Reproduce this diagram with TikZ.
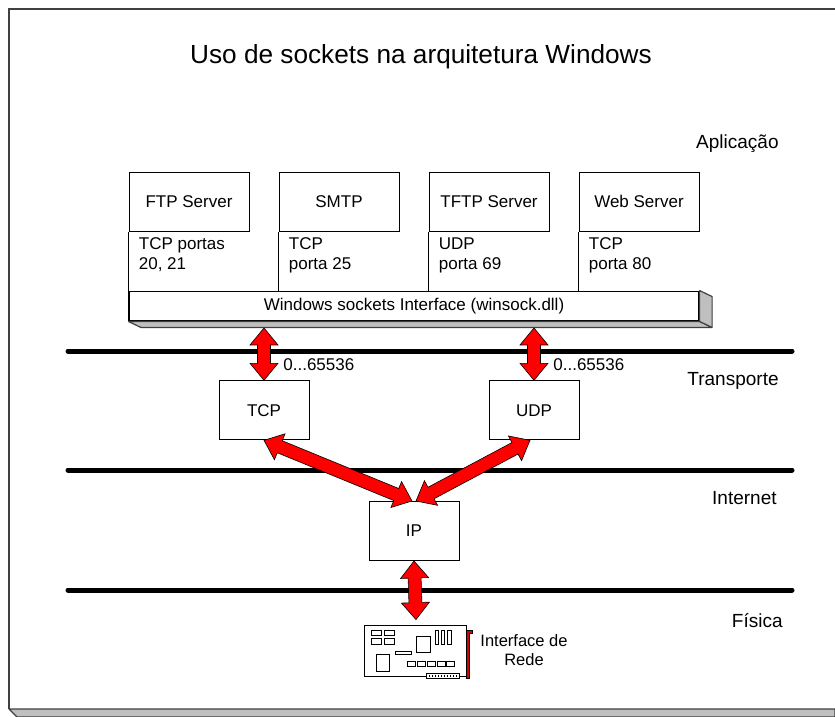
\documentclass[tikz,border=0pt]{standalone}
\usepackage{fontspec}
\setmainfont{Liberation Sans}
\usetikzlibrary{calc}

\tikzset{
  proto/.style={draw, line width=0.5pt, minimum width=45pt, minimum height=29.5pt,
    inner sep=0pt, font=\fontsize{8.5}{10}\selectfont},
  app/.style={proto, minimum width=60pt},
  porttext/.style={anchor=north west, align=left, inner sep=0pt,
    font=\fontsize{8.5}{10}\selectfont},
  rangetext/.style={anchor=west, inner sep=0pt, font=\fontsize{8.5}{10}\selectfont},
  layer/.style={anchor=east, inner sep=0pt, font=\fontsize{9.5}{11}\selectfont},
  layerline/.style={line width=2.5pt, line cap=round},
  arrowfill/.style={fill=red, draw=black, line width=0.3pt, line join=miter},
  frameline/.style={draw=black!75, line width=0.8pt},
  base3d/.style={fill=black!25, draw=black!75, line width=0.6pt, line join=bevel},
  chip/.style={draw, line width=0.4pt},
}

% two-headed block arrow between two points
\newcommand{\biarrow}[2]{%
  \coordinate (ba-s) at (#1);
  \coordinate (ba-e) at (#2);
  \pgfpointdiff{\pgfpointanchor{ba-s}{center}}{\pgfpointanchor{ba-e}{center}}%
  \pgfgetlastxy{\badx}{\bady}%
  \pgfmathsetmacro{\baang}{atan2(\bady,\badx)}%
  \pgfmathsetmacro{\balen}{veclen(\badx,\bady)}%
  \begin{scope}[shift={(ba-s)}, rotate=\baang, x=1pt, y=1pt]
    \draw[arrowfill] (0,0) -- (8.5,7) -- (8.5,3.25) -- (\balen-8.5,3.25)
      -- (\balen-8.5,7) -- (\balen,0) -- (\balen-8.5,-7) -- (\balen-8.5,-3.25)
      -- (8.5,-3.25) -- (8.5,-7) -- cycle;
  \end{scope}}

\begin{document}
\begin{tikzpicture}[x=0.5pt, y=-0.5pt]
  \useasboundingbox (0,0) rectangle (835,717);

  % outer frame
  \fill[white] (9,9) rectangle (835,709);
  \draw[base3d] (9,709) -- (835,709) -- (835,717) -- (17,717) -- cycle;
  \draw[frameline] (9,709) -- (9,9) -- (835,9);

  \node[font=\fontsize{13.1}{15}\selectfont] (title) at (421,57)
    {Uso de sockets na arquitetura Windows};

  % layers
  \draw[layerline] (68,351) -- (792,351);
  \draw[layerline] (68,470) -- (792,470);
  \draw[layerline] (68,590) -- (792,590);
  \node[layer] (aplic) at (779,144) {Aplicação};
  \node[layer] (transp) at (779,381) {Transporte};
  \node[layer] (inet) at (777,498) {Internet};
  \node[layer] (fis) at (783,621) {Física};

  % applications
  \node[app] (ftp) at (189,201.5) {FTP Server};
  \node[app] (smtp) at (339,201.5) {SMTP};
  \node[app] (tftp) at (489,201.5) {TFTP Server};
  \node[app] (web) at (639,201.5) {Web Server};
  \node[porttext] (ftpport) at ($(ftp.south west)+(10,6)$) {TCP portas\\20, 21};
  \node[porttext] (smtpport) at ($(smtp.south west)+(10,6)$) {TCP\\porta 25};
  \node[porttext] (tftpport) at ($(tftp.south west)+(10,6)$) {UDP\\porta 69};
  \node[porttext] (webport) at ($(web.south west)+(10,6)$) {TCP\\porta 80};

  % winsock bar
  \node[draw, line width=0.6pt, fill=white, minimum width=285pt, minimum height=14.85pt,
    inner sep=0pt, font=\fontsize{8.5}{10}\selectfont] (winsock) at (414,306)
    {Windows sockets Interface (winsock.dll)};
  \draw[base3d] (winsock.south west) -- (winsock.south east) -- ++(12.5,6)
    -- ($(winsock.south west)+(12.5,6)$) -- cycle;
  \draw[base3d] (winsock.north east) -- ++(12.5,6) -- ($(winsock.south east)+(12.5,6)$)
    -- (winsock.south east) -- cycle;
  \foreach \n in {ftp,smtp,tftp,web}
    \draw[line width=0.5pt] (\n.south west) -- (\n.south west |- winsock.north);

  % transport and internet
  \node[proto] (tcp) at (264,410.3) {TCP};
  \node[proto] (udp) at (534,410.3) {UDP};
  \node[proto] (ip) at (414,531) {IP};
  \node[rangetext] (tcprange) at (283,365) {0...65536};
  \node[rangetext] (udprange) at (553,365) {0...65536};

  % network card
  \node[minimum width=51pt, minimum height=25.5pt, inner sep=0pt] (nic) at (416,651.5) {};
  \begin{scope}[shift={(nic.north west)}]
    \draw[line width=0.6pt] (0,0) rectangle (102,51);
    \draw[chip] (7,5) rectangle (17,10) (20,5) rectangle (30,10)
      (7,13) rectangle (17,19) (20,13) rectangle (30,19);
    \draw[chip] (31,26) rectangle (47,29);
    \draw[chip] (52,11) rectangle (66,27);
    \draw[chip] (71,5) rectangle (74,19) (77,5) rectangle (80,19) (83,5) rectangle (87,19);
    \draw[chip] (12,29) rectangle (25,46);
    \foreach \i in {0,...,4}
      \draw[chip] (43+\i*9.8,36) rectangle (51+\i*9.8,41);
    \draw[chip, fill=white] (62,48) rectangle (95,53);
    \foreach \i in {0,...,9}
      \draw[line width=0.3pt] (64.5+\i*3,49.5) -- (64.5+\i*3,51.5);
    \draw[fill=red!85!black, draw=black, line width=0.3pt]
      (102,5) -- (108,5) -- (108,8) -- (105,8) -- (105,53) -- (102,53) -- cycle;
  \end{scope}
  \node[align=center, inner sep=0pt, font=\fontsize{8.25}{9.5}\selectfont] (niclabel)
    at (524,650) {Interface de\\Rede};

  % arrows
  \biarrow{$(winsock.south -| tcp.north)+(0,6.5)$}{tcp.north}
  \biarrow{$(winsock.south -| udp.north)+(0,6.5)$}{udp.north}
  \biarrow{tcp.south}{$(ip.north)+(-2,0)$}
  \biarrow{$(udp.south)+(-4,0)$}{$(ip.north)+(2,0)$}
  \biarrow{ip.south}{$(nic.north)+(0,-6)$}
\end{tikzpicture}
\end{document}
